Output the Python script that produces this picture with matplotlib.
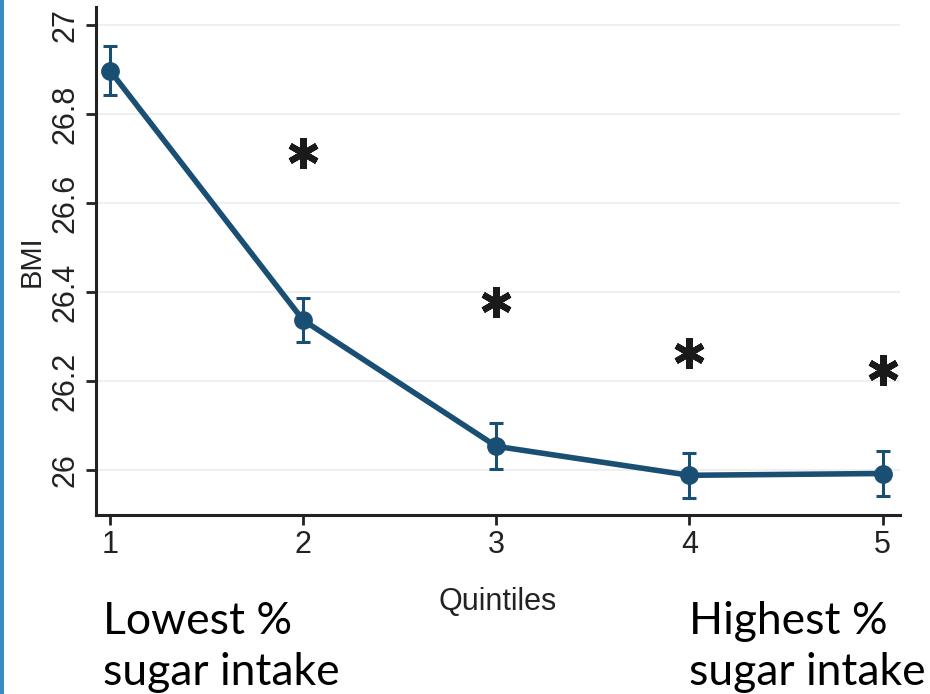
import matplotlib.pyplot as plt
from matplotlib.patches import Rectangle

# BMI by quintile of % energy from sugar
quintiles = [1, 2, 3, 4, 5]
bmi = [26.897, 26.337, 26.054, 25.989, 25.993]
bmi_err = [0.055, 0.050, 0.052, 0.051, 0.050]

# significance stars (quintiles 2-5 vs quintile 1)
sig_x = [2, 3, 4, 5]
sig_y = [26.712, 26.378, 26.263, 26.225]

yticks = [26, 26.2, 26.4, 26.6, 26.8, 27]
ytick_labels = ['26', '26.2', '26.4', '26.6', '26.8', '27']

line_color = '#1a4f74'

fig = plt.figure(figsize=(9.3, 6.94), dpi=100)
ax = fig.add_axes([0.1032, 0.258, 0.8645, 0.732])

ax.errorbar(quintiles, bmi, yerr=bmi_err, color=line_color, lw=4,
            marker='o', markersize=12.5, ecolor=line_color, elinewidth=2.2,
            capsize=5, capthick=2.2, zorder=3)

ax.plot(sig_x, sig_y, linestyle='none', marker=(6, 2, 0), markersize=22,
        markeredgewidth=4.5, color='#1a1a1a', zorder=4)

ax.set_xlim(0.927, 5.09)
ax.set_ylim(25.9, 27.04)
ax.set_xticks(quintiles)
ax.set_yticks(yticks)
ax.set_yticklabels(ytick_labels, rotation=90, va='center')

for lab in ax.get_xticklabels() + ax.get_yticklabels():
    lab.set_fontfamily('Liberation Sans')
    lab.set_fontsize(22)
    lab.set_color('#222222')

ax.tick_params(axis='both', length=7, width=2, color='#222222', pad=4)
ax.grid(axis='y', color='#e9eeef', lw=1.2)
ax.set_axisbelow(True)
for side in ['top', 'right']:
    ax.spines[side].set_visible(False)
for side in ['left', 'bottom']:
    ax.spines[side].set_linewidth(2.2)
    ax.spines[side].set_color('#222222')

ax.set_ylabel('BMI', fontfamily='Liberation Sans', fontsize=21,
              color='#222222', labelpad=4)
fig.text(0.535, 0.133, 'Quintiles', ha='center', va='center',
         fontfamily='Liberation Sans', fontsize=22, color='#222222')

fig.text(0.111, 0.013, 'Lowest %\nsugar intake', ha='left', va='baseline',
         fontfamily='Lato', fontsize=32, linespacing=1.3, color='black')
fig.text(0.741, 0.013, 'Highest %\nsugar intake', ha='left', va='baseline',
         fontfamily='Lato', fontsize=32, linespacing=1.3, color='black')

# slide border on the left edge
fig.patches.append(Rectangle((0, 0), 0.004, 1, transform=fig.transFigure,
                             facecolor='#3a8ac2', edgecolor='none'))

fig.savefig('out.png', dpi=100)
